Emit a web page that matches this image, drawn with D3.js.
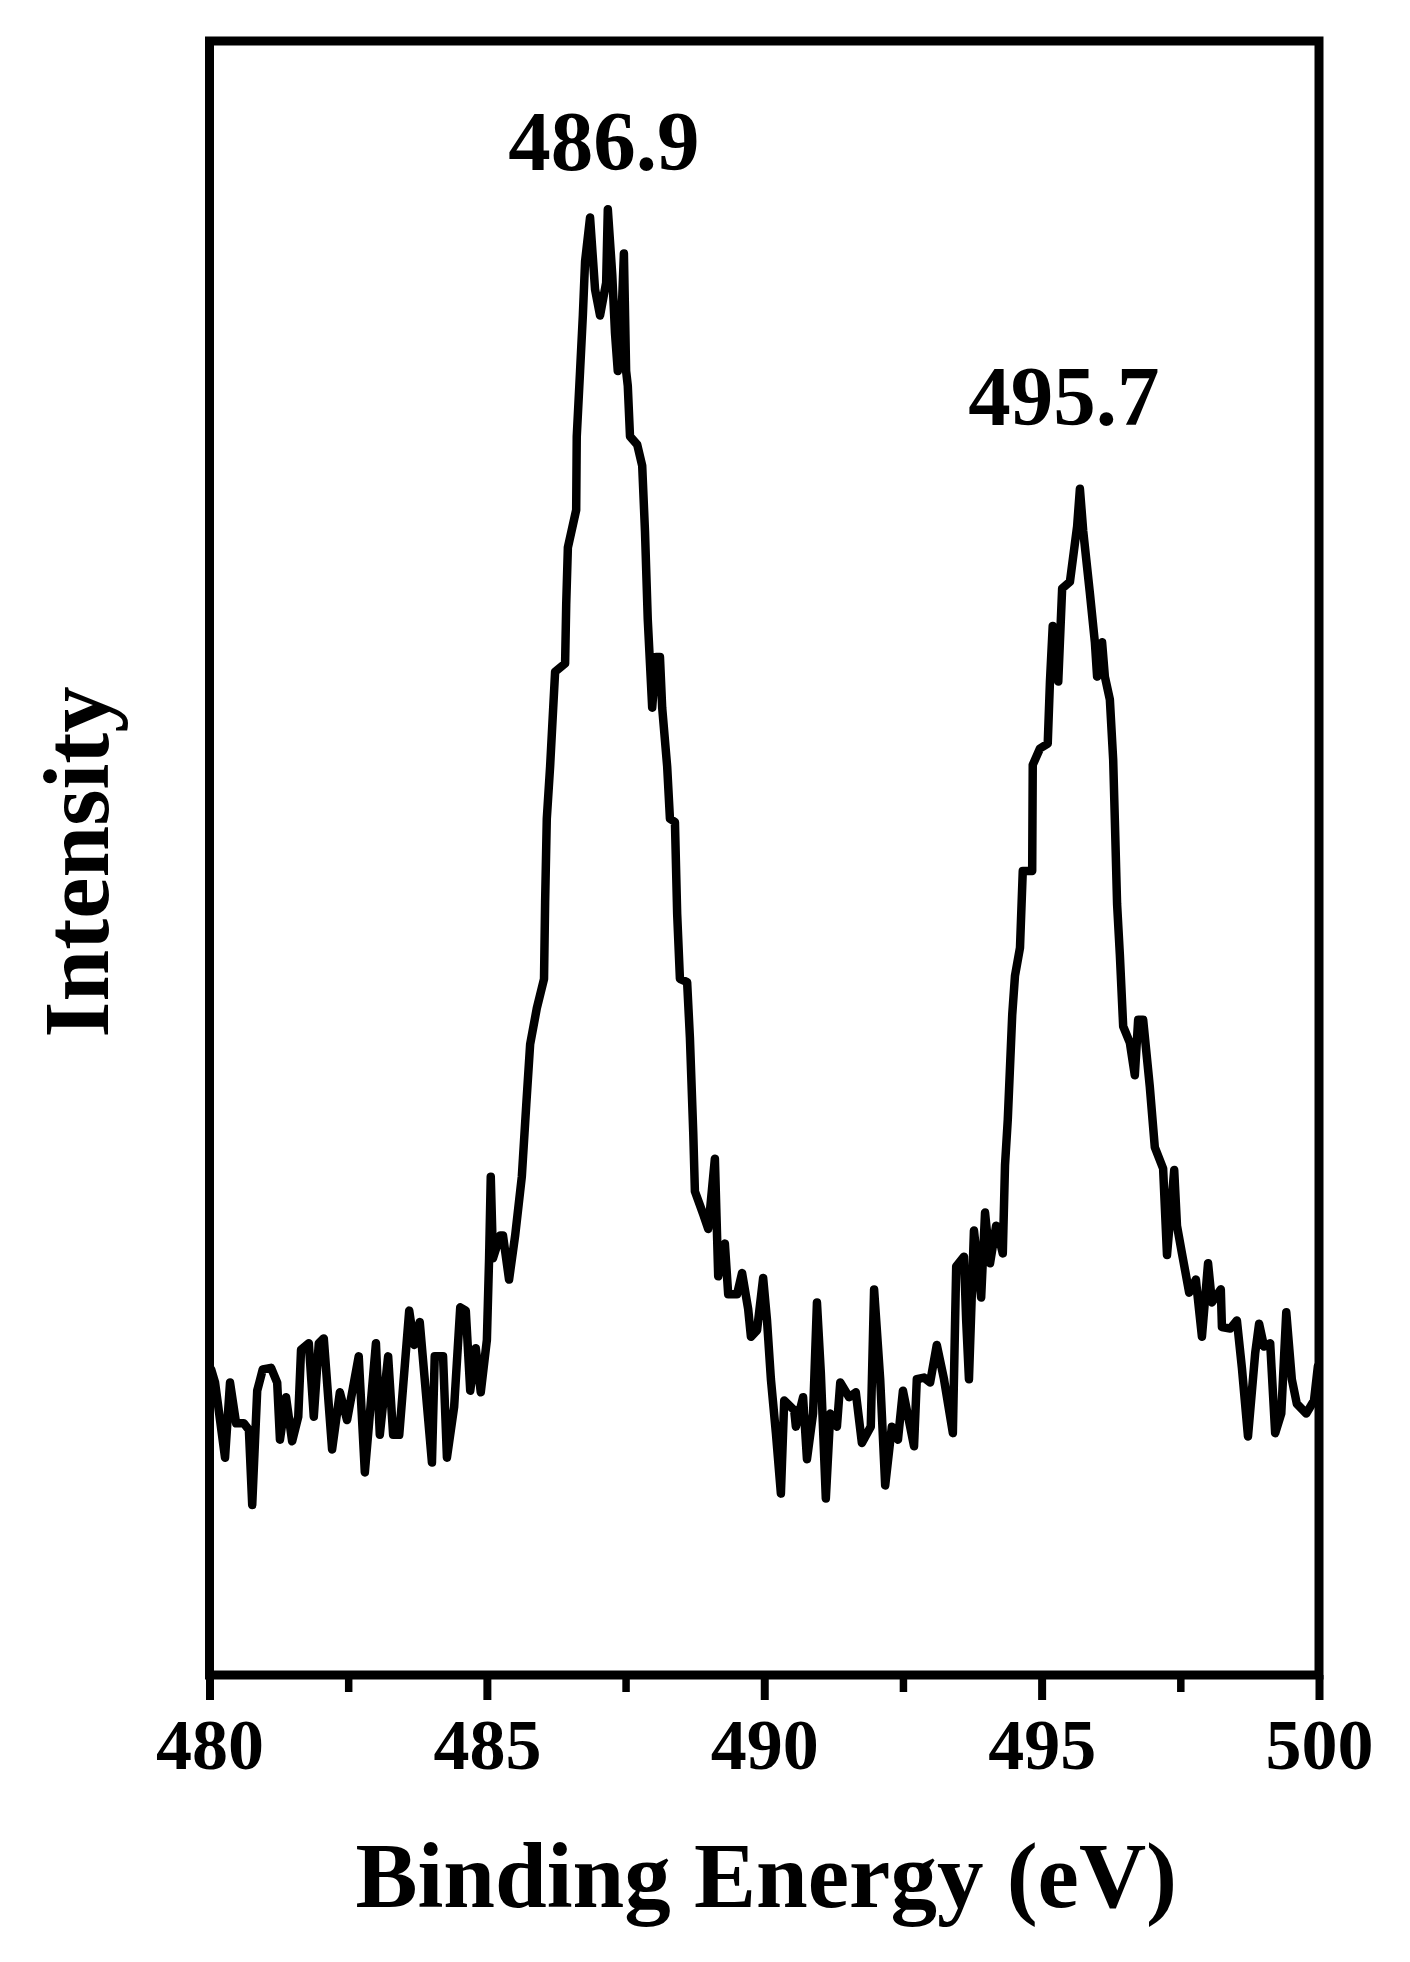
<!DOCTYPE html>
<html>
<head>
<meta charset="utf-8">
<script src="https://cdn.jsdelivr.net/npm/d3@7"></script>
<style>
  html, body { margin: 0; padding: 0; background: #ffffff; }
  svg { display: block; }
  text { font-family: "Liberation Serif", "Times New Roman", serif; font-weight: bold; fill: #000; }
</style>
</head>
<body>
<svg id="chart" width="1410" height="1962"></svg>
<script>
// Binding energy (eV)
const energy = [
  480.03,480.10,480.28,480.37,480.48,480.62,480.71,480.77,480.86,480.96,
  481.11,481.22,481.27,481.38,481.49,481.60,481.65,481.79,481.88,481.97,
  482.06,482.21,482.35,482.48,482.69,482.80,483.00,483.07,483.22,483.31,
  483.42,483.60,483.69,483.79,483.90,484.01,484.06,484.21,484.28,484.41,
  484.52,484.62,484.70,484.80,484.89,485.00,485.04,485.07,485.11,485.24,
  485.29,485.40,485.51,485.63,485.71,485.78,485.90,486.03,486.05,486.08,
  486.14,486.23,486.41,486.43,486.46,486.61,486.62,486.68,486.73,486.77,
  486.86,486.95,487.04,487.15,487.18,487.26,487.31,487.36,487.44,487.47,
  487.51,487.54,487.58,487.71,487.80,487.85,487.90,487.98,488.05,488.12,
  488.16,488.25,488.30,488.39,488.43,488.48,488.61,488.66,488.72,488.75,
  488.90,488.99,489.11,489.17,489.29,489.35,489.51,489.60,489.71,489.76,
  489.87,489.98,490.05,490.12,490.21,490.30,490.36,490.54,490.57,490.70,
  490.77,490.88,490.95,491.02,491.11,491.19,491.31,491.37,491.53,491.65,
  491.76,491.92,491.98,492.09,492.18,492.30,492.41,492.50,492.70,492.75,
  492.88,492.99,493.11,493.24,493.40,493.46,493.60,493.64,493.69,493.78,
  493.91,493.98,494.07,494.18,494.30,494.34,494.39,494.47,494.52,494.61,
  494.66,494.83,494.84,494.97,495.11,495.15,495.20,495.30,495.37,495.51,
  495.64,495.69,495.75,495.87,495.96,496.00,496.09,496.14,496.23,496.29,
  496.32,496.36,496.41,496.47,496.59,496.68,496.74,496.83,496.95,497.04,
  497.19,497.26,497.39,497.44,497.53,497.66,497.78,497.89,498.00,498.07,
  498.23,498.25,498.40,498.52,498.61,498.72,498.85,498.92,499.01,499.12,
  499.21,499.32,499.41,499.51,499.60,499.77,499.91,499.98
];
// Intensity (a.u.)
const intensity = [
  187,179,133,179,154,154,150,104,174,187,
  188,179,144,170,143,158,199,203,158,203,
  206,138,173,156,195,124,203,147,195,147,
  147,223,202,216,173,130,195,195,133,164,
  225,223,174,200,173,205,255,305,255,269,
  269,242,269,305,349,386,408,426,473,524,
  556,614,619,655,690,713,758,798,832,865,
  892,848,832,852,897,857,821,798,843,870,
  798,789,758,753,740,700,646,592,623,623,
  592,556,524,522,466,426,424,390,332,296,
  282,273,316,244,264,233,233,246,224,207,
  211,243,217,181,148,111,168,162,152,170,
  132,160,228,185,108,160,152,179,170,173,
  142,152,236,181,116,152,144,174,140,181,
  182,179,202,181,148,250,256,217,181,272,
  231,283,252,275,258,312,340,404,428,445,
  492,492,557,567,570,608,642,608,665,669,
  703,726,700,662,632,611,632,611,597,560,
  523,472,441,397,387,367,401,401,360,323,
  310,257,309,275,258,234,242,207,252,228,
  236,213,212,217,188,146,197,215,201,203,
  148,160,222,181,166,160,168,189
];
// Axis settings and labels
const xDomain = [480, 500];
const yDomain = [0, 1000];
const xTickValues = [480, 485, 490, 495, 500];
const xMinorTickValues = [482.5, 487.5, 492.5, 497.5];
const xTitle = "Binding Energy (eV)";
const yTitle = "Intensity";
// Peak annotations
const peakLabels = ["486.9", "495.7"];
const peakLabelEnergy = [487.11, 495.40];
const peakLabelIntensity = [921, 765];

(function () {
const svg = d3.select("#chart");
const mLeft = 209.5, mRight = 1319, mTop = 41, mBottom = 1675;

const x = d3.scaleLinear().domain(xDomain).range([mLeft, mRight]);
const y = d3.scaleLinear().domain(yDomain).range([mBottom, mTop]);

svg.append("rect").attr("x", 0).attr("y", 0).attr("width", 1410).attr("height", 1962).attr("fill", "#fff");

// data line
const pts = energy.map((e, i) => ({ e, v: intensity[i] }));
const line = d3.line().x(d => x(d.e)).y(d => y(d.v));
svg.append("path")
  .datum(pts)
  .attr("d", line)
  .attr("fill", "none")
  .attr("stroke", "#000")
  .attr("stroke-width", 8.5)
  .attr("stroke-linejoin", "round")
  .attr("stroke-linecap", "round");

// minor ticks
svg.append("g")
  .attr("transform", `translate(0,${mBottom})`)
  .call(d3.axisBottom(x).tickValues(xMinorTickValues).tickSize(17).tickFormat(""))
  .call(g => g.select(".domain").remove())
  .call(g => g.selectAll(".tick line").attr("stroke", "#000").attr("stroke-width", 7.5));

// major ticks + labels
const xAxis = svg.append("g")
  .attr("transform", `translate(0,${mBottom})`)
  .call(d3.axisBottom(x).tickValues(xTickValues).tickSize(25).tickPadding(0).tickFormat(d3.format("d")));
xAxis.select(".domain").remove();
xAxis.selectAll(".tick line").attr("stroke", "#000").attr("stroke-width", 8);
xAxis.selectAll(".tick text")
  .attr("y", 94)
  .attr("dy", null)
  .style("font-family", "'Liberation Serif', 'Times New Roman', serif")
  .style("font-weight", "bold")
  .style("font-size", "72px")
  .attr("fill", "#000");

// frame
svg.append("rect")
  .attr("x", mLeft).attr("y", mTop)
  .attr("width", mRight - mLeft).attr("height", mBottom - mTop)
  .attr("fill", "none")
  .attr("stroke", "#000")
  .attr("stroke-width", 9);

// axis titles
svg.append("text")
  .attr("x", (mLeft + mRight) / 2 + 2)
  .attr("y", 1907)
  .attr("text-anchor", "middle")
  .style("font-size", "93px")
  .text(xTitle);

svg.append("text")
  .attr("transform", `translate(108,${(mTop + mBottom) / 2 + 4}) rotate(-90)`)
  .attr("text-anchor", "middle")
  .style("font-size", "93px")
  .text(yTitle);

// peak labels
svg.selectAll("text.peak")
  .data(peakLabels)
  .enter().append("text")
  .attr("class", "peak")
  .attr("x", (d, i) => x(peakLabelEnergy[i]))
  .attr("y", (d, i) => y(peakLabelIntensity[i]))
  .attr("text-anchor", "middle")
  .style("font-size", "85px")
  .text(d => d);
})();
</script>
</body>
</html>
